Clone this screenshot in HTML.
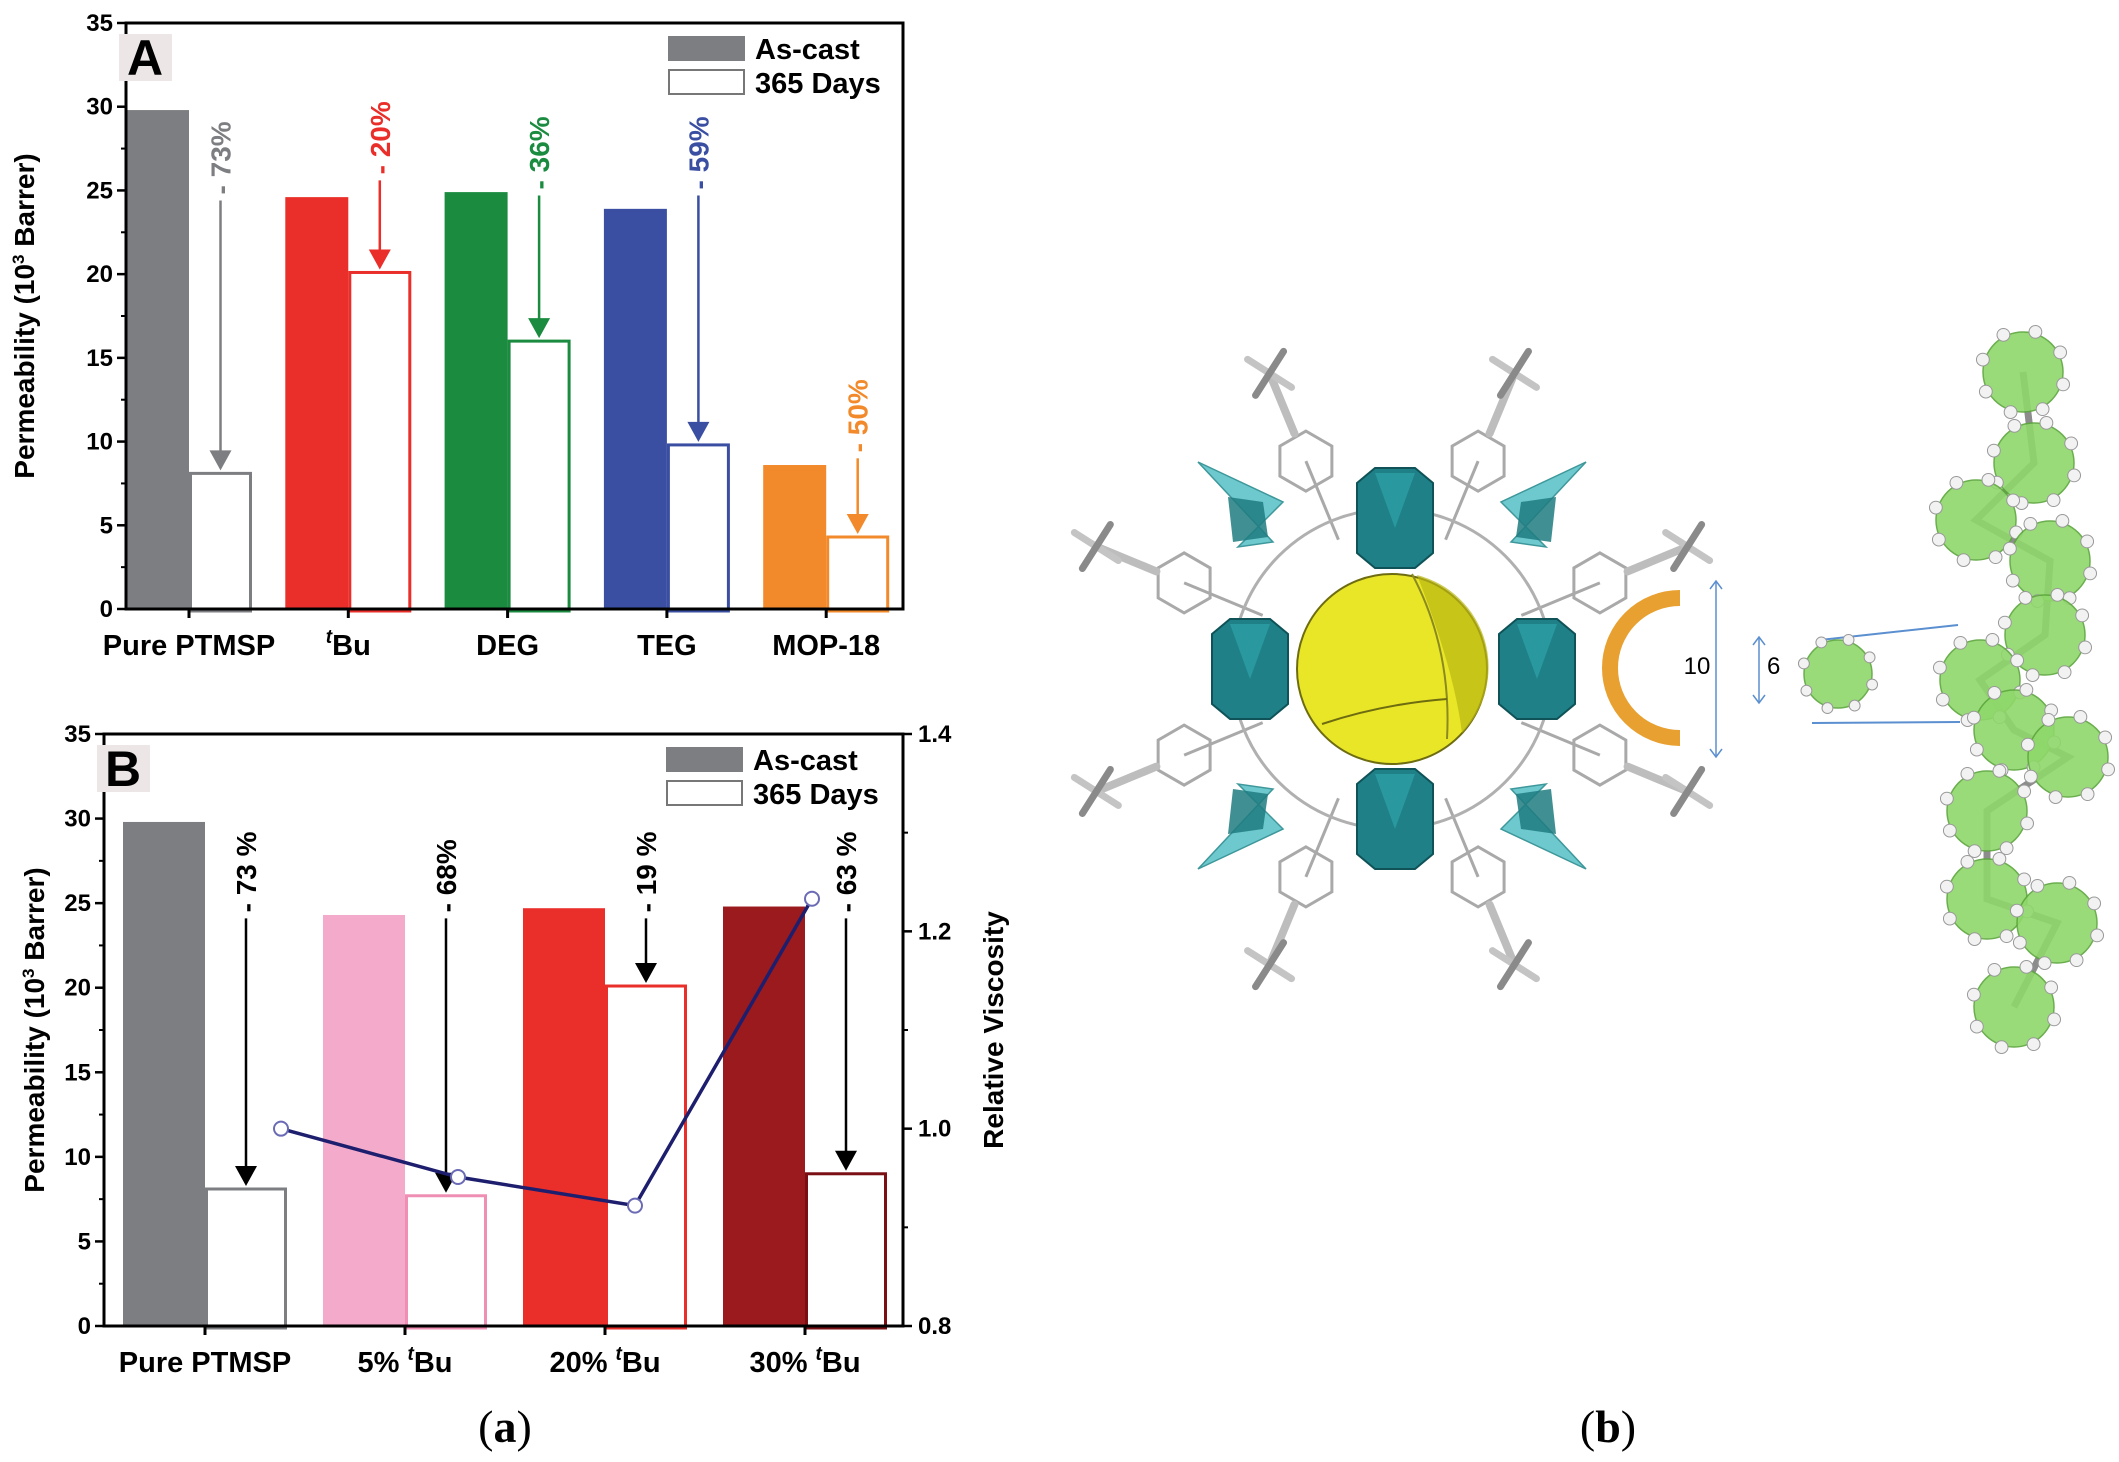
<!DOCTYPE html>
<html><head><meta charset="utf-8"><style>
html,body{margin:0;padding:0;background:#fff;}
svg{display:block;font-family:"Liberation Sans",Arial,sans-serif;}
</style></head><body>
<svg id="fig" width="2119" height="1462" viewBox="0 0 2119 1462" xmlns="http://www.w3.org/2000/svg">
<g id="chartA"></g>
<g id="chartB"></g>
<text x="505" y="1442" font-family="Liberation Serif,serif" font-size="46" text-anchor="middle">(<tspan font-weight="bold">a</tspan>)</text>
<text x="1608" y="1442" font-family="Liberation Serif,serif" font-size="46" text-anchor="middle">(<tspan font-weight="bold">b</tspan>)</text>
<g id="molecule"></g>
</svg>
<script>
// ---------- Chart A data ----------
const catsA = ["Pure PTMSP", "Bu", "DEG", "TEG", "MOP-18"];
const ascastA = [29.8, 24.6, 24.9, 23.9, 8.6];
const daysA = [8.1, 20.1, 16.0, 9.8, 4.3];
const pctA = ["- 73%", "- 20%", "- 36%", "- 59%", "- 50%"];
const arrowStartA = [24.4, 25.6, 24.7, 24.7, 9.0];
const colorsA = ["#7d7e81", "#ea2e2a", "#1b8b40", "#3a4fa2", "#f28a2b"];
const ticksA = [0, 5, 10, 15, 20, 25, 30, 35];
// ---------- Chart B data ----------
const catsB = ["Pure PTMSP", "5% ", "20% ", "30% "];
const ascastB = [29.8, 24.3, 24.7, 24.8];
const daysB = [8.1, 7.7, 20.1, 9.0];
const pctB = ["- 73 %", "- 68%", "- 19 %", "- 63 %"];
const arrowStartB = [24.1, 24.1, 24.1, 24.1];
const colorsB = ["#7d7e81", "#f4aacb", "#ea2e2a", "#9a1a1e"];
const outlineB = ["#7d7e81", "#f08fb4", "#ea2e2a", "#7a1014"];
const viscosity = [1.0, 0.951, 0.922, 1.233];
const ticksB = [0, 5, 10, 15, 20, 25, 30, 35];
const ticksR = [0.8, 1.0, 1.2, 1.4];

const NS = "http://www.w3.org/2000/svg";
function mk(parent, tag, attrs, text) {
  const e = document.createElementNS(NS, tag);
  for (const k in attrs) e.setAttribute(k, attrs[k]);
  if (text !== undefined) e.textContent = text;
  parent.appendChild(e);
  return e;
}

function drawChart(g, o) {
  const {L, R, T, B, ymax, cats, as, ds, pct, st, cols, outl, ticks, x0, gap, bw, annColor, panel, tb, titleX} = o;
  const y = v => B - v / ymax * (B - T);
  const xg = i => x0 + i * gap;
  cats.forEach((c, i) => {
    const r1 = mk(g, "rect", {x: xg(i), y: y(as[i]), width: bw, height: B - y(as[i]), fill: cols[i]});
    
    
    const r2 = mk(g, "rect", {x: xg(i) + bw + 1.5, y: y(ds[i]), width: bw - 3, height: B - y(ds[i]) + 2, fill: "#fff", stroke: outl[i], "stroke-width": 3});
    
    
    const ac = annColor ? annColor : cols[i];
    const cx = xg(i) + bw * 1.5;
    const ya = y(st[i]), yb = y(ds[i]) - 3;
    const ln = mk(g, "line", {x1: cx, y1: ya, x2: cx, y2: yb - 16, stroke: ac, "stroke-width": 2.5});
    
    
    const hd = mk(g, "polygon", {points: `${cx-11},${yb-20} ${cx+11},${yb-20} ${cx},${yb}`, fill: ac});
    
    
    const tx = mk(g, "text", {x: 0, y: 0, transform: `translate(${cx + 10},${ya - 6}) rotate(-90)`, "font-size": 28, "font-weight": "bold", fill: ac}, pct[i]);
    
    
    const tk = xg(i) + bw;
    mk(g, "line", {x1: tk, y1: B, x2: tk, y2: B + 9, stroke: "#000", "stroke-width": 3});
    const lab = mk(g, "text", {x: tk, y: B + 46, "font-size": 29, "font-weight": "bold", "text-anchor": "middle"});
    
    
    if (c.indexOf("Bu") >= 0 || c.endsWith(" ")) {
      lab.textContent = c;
      mk(lab, "tspan", {"font-size": 19, dy: -12, "font-style": "italic"}, "t");
      mk(lab, "tspan", {dy: 12}, "Bu");
      if (c === "Bu") lab.firstChild.textContent = "";
    } else lab.textContent = c;
  });
  ticks.forEach(t => {
    mk(g, "line", {x1: L - 9, y1: y(t), x2: L, y2: y(t), stroke: "#000", "stroke-width": 2.5});
    if (t < ymax) mk(g, "line", {x1: L - 5, y1: y(t + 2.5), x2: L, y2: y(t + 2.5), stroke: "#000", "stroke-width": 2});
    const tl = mk(g, "text", {x: L - 13, y: y(t) + 8, "font-size": 24, "font-weight": "bold", "text-anchor": "end"}, String(t));
    
    
  });
  const fr = mk(g, "rect", {x: L, y: T, width: R - L, height: B - T, fill: "none", stroke: "#000", "stroke-width": 3});
  
  
  const yt = mk(g, "text", {x: 0, y: 0, transform: `translate(${titleX},${(T + B) / 2}) rotate(-90)`, "font-size": 28, "font-weight": "bold", "text-anchor": "middle"});
  
  
  yt.textContent = "Permeability (10";
  mk(yt, "tspan", {dy: -10, "font-size": 17}, "3");
  mk(yt, "tspan", {dy: 10}, " Barrer)");
  mk(g, "rect", {x: L - 7, y: T + 11, width: 53, height: 47, fill: "#ece6e6"});
  const pl = mk(g, "text", {x: L + 19, y: T + 52, "font-size": 50, "font-weight": "bold", "text-anchor": "middle"}, panel);
  
  
  const lx = tb;
  const l1 = mk(g, "rect", {x: lx, y: T + 13, width: 77, height: 25, fill: "#7d7e81"});
  
  
  const l2 = mk(g, "rect", {x: lx + 1, y: T + 47, width: 75, height: 24, fill: "#fff", stroke: "#777", "stroke-width": 2});
  
  
  const t1 = mk(g, "text", {x: lx + 87, y: T + 36, "font-size": 29, "font-weight": "bold"}, "As-cast");
  
  
  const t2 = mk(g, "text", {x: lx + 87, y: T + 70, "font-size": 29, "font-weight": "bold"}, "365 Days");
  
  
  return y;
}

const gA = document.getElementById("chartA");
drawChart(gA, {L: 126, R: 903, T: 23, B: 609, ymax: 35, cats: catsA, as: ascastA, ds: daysA, pct: pctA, st: arrowStartA,
  cols: colorsA, outl: colorsA, ticks: ticksA, x0: 126, gap: 159.3, bw: 63, annColor: null, panel: "A", tb: 668, titleX: 34});

const gB = document.getElementById("chartB");
drawChart(gB, {L: 104, R: 903, T: 734, B: 1326, ymax: 35, cats: catsB, as: ascastB, ds: daysB, pct: pctB, st: arrowStartB,
  cols: colorsB, outl: outlineB, ticks: ticksB, x0: 123, gap: 200, bw: 82, annColor: "#000", panel: "B", tb: 666, titleX: 44});

const yR = v => 1326 - (v - 0.8) / 0.6 * 592;
ticksR.forEach(t => {
  mk(gB, "line", {x1: 903, y1: yR(t), x2: 912, y2: yR(t), stroke: "#000", "stroke-width": 2.5});
  if (t < 1.35) mk(gB, "line", {x1: 903, y1: yR(t + 0.1), x2: 908, y2: yR(t + 0.1), stroke: "#000", "stroke-width": 2});
  const tl = mk(gB, "text", {x: 918, y: yR(t) + 8, "font-size": 24, "font-weight": "bold"}, t.toFixed(1));
  
  
});
const rt = mk(gB, "text", {x: 0, y: 0, transform: "translate(1003,1030) rotate(-90)", "font-size": 28, "font-weight": "bold", "text-anchor": "middle"}, "Relative Viscosity");


const xv = i => 281 + 177 * i;
const vl = mk(gB, "polyline", {points: viscosity.map((v, i) => xv(i) + "," + yR(v)).join(" "), fill: "none", stroke: "#1e1e6e", "stroke-width": 3.5});


viscosity.forEach((v, i) => {
  const c = mk(gB, "circle", {cx: xv(i), cy: yR(v), r: 7, fill: "#fff", stroke: "#6b6bb5", "stroke-width": 2});
  
  
});

// ---------- Molecular illustration ----------
const m = document.getElementById("molecule");
const cx0 = 1392, cy0 = 669;
const stick = {stroke: "#a9a9a9", "stroke-width": 3, fill: "none"};
for (let k = 0; k < 8; k++) {
  const a = k * Math.PI / 4 + Math.PI / 8;
  const hx = cx0 + Math.cos(a) * 225, hy = cy0 + Math.sin(a) * 225;
  let pts = [];
  for (let j = 0; j < 6; j++) { const b = j * Math.PI / 3 + Math.PI / 6; pts.push((hx + 30 * Math.cos(b)) + "," + (hy + 30 * Math.sin(b))); }
  mk(m, "polygon", Object.assign({points: pts.join(" ")}, stick));
  const ox = cx0 + Math.cos(a) * 320, oy = cy0 + Math.sin(a) * 320;
  mk(m, "line", {x1: hx + Math.cos(a) * 30, y1: hy + Math.sin(a) * 30, x2: ox, y2: oy, stroke: "#bdbdbd", "stroke-width": 8, "stroke-linecap": "round"});
  mk(m, "line", {x1: ox - 22, y1: oy - 14, x2: ox + 22, y2: oy + 14, stroke: "#c4c4c4", "stroke-width": 7, "stroke-linecap": "round"});
  mk(m, "line", {x1: ox + 14, y1: oy - 22, x2: ox - 14, y2: oy + 22, stroke: "#8a8a8a", "stroke-width": 7, "stroke-linecap": "round"});
  mk(m, "line", {x1: hx, y1: hy, x2: cx0 + Math.cos(a) * 140, y2: cy0 + Math.sin(a) * 140, stroke: "#a9a9a9", "stroke-width": 3});
}
mk(m, "circle", {cx: cx0, cy: cy0, r: 160, fill: "none", stroke: "#b0b0b0", "stroke-width": 3});
[[1243, 507, -1, -1], [1541, 507, 1, -1], [1243, 824, -1, 1], [1541, 824, 1, 1]].forEach(p => {
  const [x, y, sx, sy] = p;
  mk(m, "polygon", {points: `${x + sx * 45},${y + sy * 45} ${x - sx * 30},${y - sy * 35} ${x + sx * 5},${y - sy * 40} ${x - sx * 40},${y + sy * 5}`, fill: "#5ec4c8", stroke: "#2a8c90", "stroke-width": 1.5, opacity: 0.9});
  mk(m, "polygon", {points: `${x - sx * 25},${y - sy * 30} ${x + sx * 10},${y - sy * 35} ${x + sx * 15},${y + sy * 10} ${x - sx * 20},${y + sy * 5}`, fill: "#1e7b80", opacity: 0.85});
});
[[1395, 518], [1395, 819], [1250, 669], [1537, 669]].forEach(p => {
  const [x, y] = p;
  mk(m, "polygon", {points: `${x - 38},${y - 35} ${x - 20},${y - 50} ${x + 20},${y - 50} ${x + 38},${y - 35} ${x + 38},${y + 35} ${x + 20},${y + 50} ${x - 20},${y + 50} ${x - 38},${y + 35}`, fill: "#1f8088", stroke: "#0f5358", "stroke-width": 2});
  mk(m, "polygon", {points: `${x - 20},${y - 45} ${x + 20},${y - 45} ${x},${y + 10}`, fill: "#2ea3aa", opacity: 0.7});
});
mk(m, "circle", {cx: cx0, cy: cy0, r: 95, fill: "#e9e628", stroke: "#6e6c10", "stroke-width": 2});
mk(m, "path", {d: `M${cx0 + 20},${cy0 - 95} Q${cx0 + 60},${cy0 - 20} ${cx0 + 55},${cy0 + 70}`, fill: "none", stroke: "#8b8a20", "stroke-width": 2});
mk(m, "path", {d: `M${cx0 + 25},${cy0 - 94} A95 95 0 0 1 ${cx0 + 70},${cy0 + 64} Q${cx0 + 62},${cy0} ${cx0 + 25},${cy0 - 94}Z`, fill: "#b9b613", opacity: 0.7});
mk(m, "path", {d: `M${cx0 - 70},${cy0 + 55} Q${cx0 - 10},${cy0 + 35} ${cx0 + 55},${cy0 + 30}`, fill: "none", stroke: "#6e6c10", "stroke-width": 2});
mk(m, "path", {d: "M1680,598 A70 70 0 0 0 1680,738", fill: "none", stroke: "#e8a030", "stroke-width": 16});
const blue = "#5b8fd0";
mk(m, "line", {x1: 1716, y1: 581, x2: 1716, y2: 757, stroke: blue, "stroke-width": 1.5});
mk(m, "path", {d: "M1710,589 L1716,581 L1722,589 M1710,749 L1716,757 L1722,749", fill: "none", stroke: blue, "stroke-width": 1.5});
const t10 = mk(m, "text", {x: 1697, y: 674, "font-size": 24, "text-anchor": "middle"}, "10");


mk(m, "line", {x1: 1759, y1: 637, x2: 1759, y2: 703, stroke: blue, "stroke-width": 1.5});
mk(m, "path", {d: "M1753,645 L1759,637 L1765,645 M1753,695 L1759,703 L1765,695", fill: "none", stroke: blue, "stroke-width": 1.5});
const t6 = mk(m, "text", {x: 1767, y: 674, "font-size": 24}, "6");


mk(m, "line", {x1: 1820, y1: 640, x2: 1958, y2: 625, stroke: blue, "stroke-width": 2});
mk(m, "line", {x1: 1812, y1: 723, x2: 1960, y2: 722, stroke: blue, "stroke-width": 2});
function green(x, y, r) {
  mk(m, "circle", {cx: x, cy: y, r: r, fill: "#8fd86a", stroke: "#5ca63c", "stroke-width": 1.5, opacity: 0.9});
  for (let k = 0; k < 8; k++) { const a = k * Math.PI / 4 + 0.3; mk(m, "circle", {cx: x + Math.cos(a) * r * 1.05, cy: y + Math.sin(a) * r * 1.05, r: r * 0.16, fill: "#f2f2f2", stroke: "#999", "stroke-width": 1}); }
}
green(1838, 674, 34);
const chain = [[2023, 372], [2034, 463], [1976, 520], [2050, 561], [2045, 635], [1980, 680], [2014, 730], [2068, 757], [1987, 811], [1987, 899], [2057, 923], [2014, 1007]];
mk(m, "polyline", {points: chain.map(p => p.join(",")).join(" "), fill: "none", stroke: "#8c8c8c", "stroke-width": 7});
chain.forEach(p => green(p[0], p[1], 40));
</script>
</body></html>
